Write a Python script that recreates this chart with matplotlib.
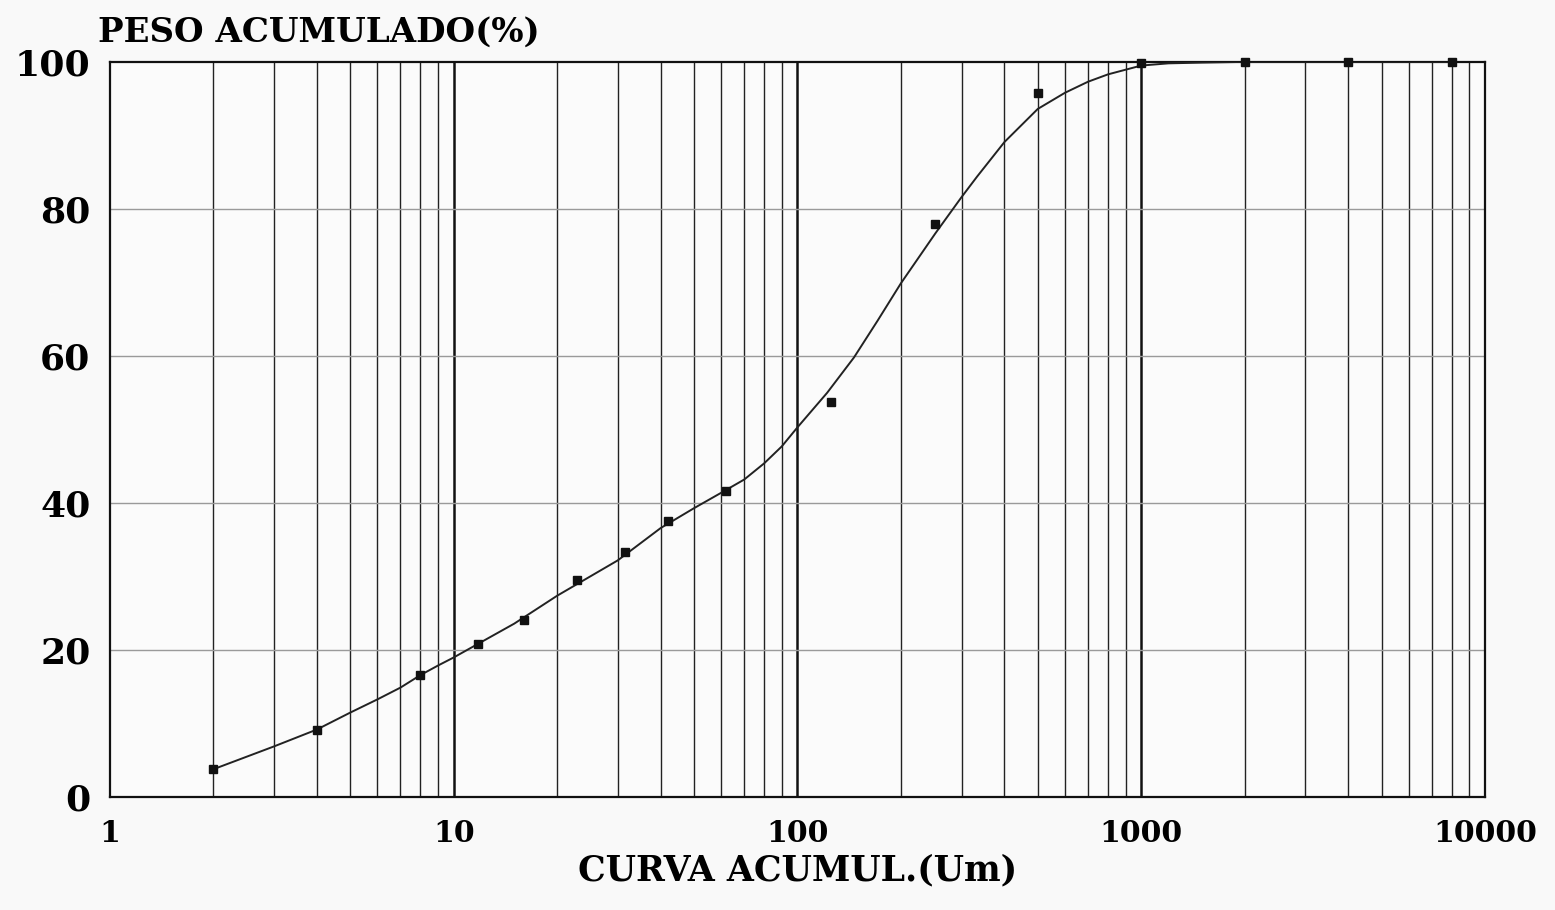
import matplotlib.pyplot as plt
from matplotlib.ticker import FixedLocator, NullFormatter

plt.rcParams['font.family'] = ['DejaVu Serif']

# measured points (size in um, cumulative weight %)
size = [2, 4, 8, 11.8, 16, 22.9, 31.6, 42, 62, 125, 252, 500, 1000, 2000, 4000, 8000]
peso = [3.8, 9.2, 16.6, 20.8, 24.1, 29.5, 33.3, 37.5, 41.6, 53.7, 77.9, 95.8, 99.8, 100, 100, 100]

# fitted curve
curve_x = [2, 3, 4, 5, 6, 7, 8, 9, 10, 15, 20, 30, 40, 50, 60, 70, 80, 90, 100,
           122, 146, 171, 200, 252, 300, 333, 400, 500, 600, 700, 800, 1000,
           1200, 1500, 2000, 4000, 8000]
curve_y = [3.8, 6.9, 9.2, 11.5, 13.3, 14.9, 16.6, 17.9, 19.0, 23.6, 27.4, 32.2,
           36.6, 39.3, 41.4, 43.2, 45.4, 47.7, 50.3, 55.0, 59.8, 64.8, 69.9,
           76.7, 81.6, 84.4, 89.1, 93.6, 95.8, 97.3, 98.3, 99.5, 99.8, 99.9,
           100, 100, 100]

xticks = [1, 10, 100, 1000, 10000]
xlabels = ['1', '10', '100', '1000', '10000']
yticks = [0, 20, 40, 60, 80, 100]

fig = plt.figure(figsize=(15.55, 9.1), dpi=100)
fig.patch.set_facecolor('#f9f9f9')
ax = fig.add_axes([0.0707, 0.124, 0.8843, 0.808])
ax.set_facecolor('#fbfbfb')

ax.set_xscale('log')
ax.set_xlim(1, 10000)
ax.set_ylim(0, 100)

# grid: vertical lines at every log step, horizontal at every 20
minors = [m * 10 ** d for d in range(4) for m in range(2, 10)]
for v in minors:
    ax.axvline(v, color='#222222', lw=1.0, zorder=1)
for v in xticks[1:-1]:
    ax.axvline(v, color='#111111', lw=1.8, zorder=1)
for h in yticks[1:-1]:
    ax.axhline(h, color='#9a9a9a', lw=1.0, zorder=1)

ax.plot(curve_x, curve_y, color='#222222', lw=1.4, zorder=3)
ax.plot(size, peso, 's', color='#111111', ms=5.5, zorder=4, clip_on=False)

ax.xaxis.set_major_locator(FixedLocator(xticks))
ax.set_xticklabels(xlabels, fontsize=21.5, fontweight='bold')
ax.xaxis.set_minor_formatter(NullFormatter())
ax.set_yticks(yticks)
ax.set_yticklabels([str(t) for t in yticks], fontsize=26, fontweight='bold')
ax.tick_params(axis='both', which='both', length=0)
ax.tick_params(axis='x', pad=16)
ax.tick_params(axis='y', pad=14)

for s in ax.spines.values():
    s.set_linewidth(1.6)
    s.set_color('#111111')

fig.text(0.063, 0.965, 'PESO ACUMULADO(%)', fontsize=24.5, fontweight='bold',
         va='center', ha='left')
ax.set_xlabel('CURVA ACUMUL.(Um)', fontsize=25, fontweight='bold', labelpad=4)

fig.savefig('out.png', dpi=100, facecolor=fig.get_facecolor())
